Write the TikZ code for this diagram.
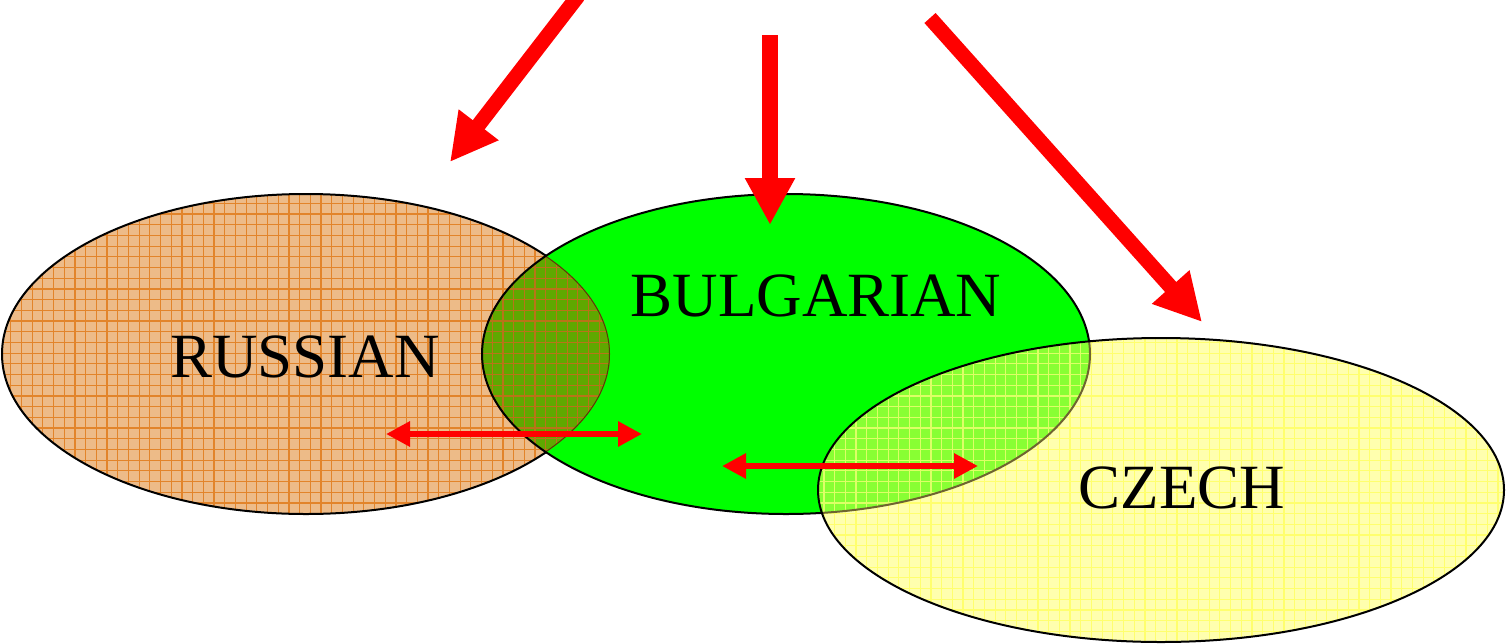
\documentclass[tikz,border=0pt]{standalone}
\usepackage{fontspec}
\setmainfont{Liberation Serif}
\usetikzlibrary{arrows.meta}
\definecolor{rusfill}{HTML}{EDBB88}
\definecolor{rusline}{HTML}{E2842A}
\definecolor{bulfill}{HTML}{00FF00}
\definecolor{rgfill}{HTML}{5FA800}
\definecolor{rgline}{HTML}{B87418}
\definecolor{rgedge}{HTML}{5A3A08}
\definecolor{czfill}{HTML}{FFFFAE}
\definecolor{czline}{HTML}{FFFF6E}
\definecolor{gcfill}{HTML}{88FF33}
\definecolor{gcline}{HTML}{DDFF66}
\definecolor{gcedge}{HTML}{6E6430}
\begin{document}
\begin{tikzpicture}[x=1pt,y=-1pt,
  lbl/.style={font=\fontsize{63}{70}\selectfont, anchor=base, inner sep=0pt},
  bigarrow/.style={draw=red, line width=15pt, -{Triangle[length=47pt,width=47pt]}},
  duoarrow/.style={draw=red, line width=6.5pt, {Triangle[length=24pt,width=24pt]}-{Triangle[length=24pt,width=24pt]}},
  gridlines/.style={line width=1.2pt, step=10.7pt},
  outline/.style={line width=2pt}]
\useasboundingbox (0,0) rectangle (1506,643);
\coordinate (rc) at (306,354);
\coordinate (bc) at (786,354);
\coordinate (cc) at (1161,490);
% Russian
\fill[rusfill] (rc) ellipse [x radius=304pt, y radius=160pt];
\begin{scope}
  \clip (rc) ellipse [x radius=304pt, y radius=160pt];
  \draw[gridlines, rusline] (0,0) grid (1506,643);
\end{scope}
\draw[outline] (rc) ellipse [x radius=304pt, y radius=160pt];
% Bulgarian
\fill[bulfill] (bc) ellipse [x radius=304pt, y radius=160pt];
\begin{scope}
  \clip (rc) ellipse [x radius=304pt, y radius=160pt];
  \clip (bc) ellipse [x radius=304pt, y radius=160pt];
  \fill[rgfill] (0,0) rectangle (1506,643);
  \draw[gridlines, rgline] (0,0) grid (1506,643);
  \draw[outline, rgedge] (rc) ellipse [x radius=304pt, y radius=160pt];
\end{scope}
\draw[outline] (bc) ellipse [x radius=304pt, y radius=160pt];
% Czech
\fill[czfill] (cc) ellipse [x radius=343pt, y radius=152pt];
\begin{scope}
  \clip (cc) ellipse [x radius=343pt, y radius=152pt];
  \draw[gridlines, czline] (0,0) grid (1506,643);
\end{scope}
\begin{scope}
  \clip (cc) ellipse [x radius=343pt, y radius=152pt];
  \clip (bc) ellipse [x radius=304pt, y radius=160pt];
  \fill[gcfill] (0,0) rectangle (1506,643);
  \draw[gridlines, gcline] (0,0) grid (1506,643);
\end{scope}
\begin{scope}
  \clip (cc) ellipse [x radius=343pt, y radius=152pt];
  \draw[outline, gcedge] (bc) ellipse [x radius=304pt, y radius=160pt];
\end{scope}
\draw[outline] (cc) ellipse [x radius=343pt, y radius=152pt];
% labels
\node[lbl] (rus) at (305,377) {RUSSIAN};
\node[lbl] (bul) at (816,316) {BULGARIAN};
\node[lbl] (cz) at (1182,508) {CZECH};
% big arrows
\coordinate (a1s) at (578,-4);
\coordinate (a1e) at (450,162);
\coordinate (a2s) at (770,35);
\coordinate (a2e) at (770,225);
\coordinate (a3s) at (930,18);
\coordinate (a3e) at (1202,322);
\draw[bigarrow] (a1s) -- (a1e);
\draw[bigarrow, line width=16pt] (a2s) -- (a2e);
\draw[bigarrow] (a3s) -- (a3e);
% double arrows
\coordinate (d1s) at (386,434);
\coordinate (d1e) at (642,434);
\coordinate (d2s) at (722,466);
\coordinate (d2e) at (978,466);
\draw[duoarrow] (d1s) -- (d1e);
\draw[duoarrow] (d2s) -- (d2e);
\end{tikzpicture}
\end{document}
